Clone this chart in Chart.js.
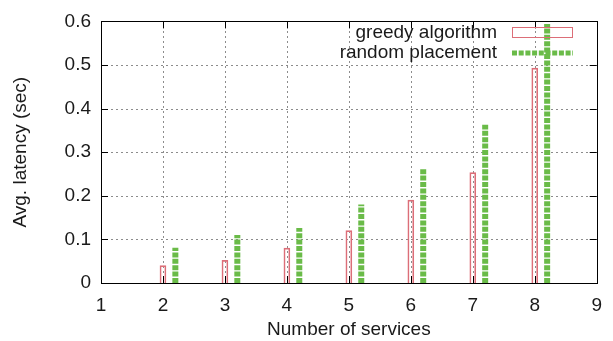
<!DOCTYPE html>
<html>
<head>
<meta charset="utf-8">
<script src="https://cdn.jsdelivr.net/npm/chart.js@4"></script>
<style>
  html, body { margin: 0; padding: 0; background: #fff; }
  #wrap { width: 613px; height: 341px; }
</style>
</head>
<body>
<div id="wrap"><canvas id="latencyChart"></canvas></div>
<script>
// services on the x axis and average latency (sec) per method
const services = [2, 3, 4, 5, 6, 7, 8];
const greedy = [0.04, 0.052, 0.08, 0.12, 0.19, 0.253, 0.493];
const random = [0.081, 0.11, 0.126, 0.18, 0.262, 0.363, 0.594];
const xTicks = [1, 2, 3, 4, 5, 6, 7, 8, 9];
const yTicks = [0, 0.1, 0.2, 0.3, 0.4, 0.5, 0.6];

const seriesNames = ['greedy algorithm', 'random placement'];
const RED = '#dc6e78';
const GREEN = '#6abb48';
const INK = '#1a1a1a';
const FONT = 'Liberation Sans, Arial, sans-serif';
const shift = 0.2; // random bars sit just right of each integer

// random placement drawn as thick dashed columns, split by nulls
const randomPts = [];
services.forEach((s, i) => {
  randomPts.push({ x: s + shift, y: 0 }, { x: s + shift, y: random[i] }, { x: s + shift, y: null });
});

// dotted grid, drawn by hand so the dots stay crisp
const dots = {
  id: 'dots',
  beforeDatasetsDraw(chart) {
    const { ctx, chartArea: a, scales } = chart;
    ctx.save();
    ctx.strokeStyle = '#8c8c8c';
    ctx.lineWidth = 1;
    ctx.setLineDash([2, 3]);
    ctx.beginPath();
    xTicks.slice(1, -1).forEach(v => {
      const px = Math.round(scales.x.getPixelForValue(v)) + 0.5;
      ctx.moveTo(px, a.bottom); ctx.lineTo(px, a.top);
    });
    yTicks.slice(1, -1).forEach(v => {
      const py = Math.round(scales.y.getPixelForValue(v)) + 0.5;
      ctx.moveTo(a.left, py); ctx.lineTo(a.right, py);
    });
    ctx.stroke();
    ctx.restore();
  }
};

const frame = {
  id: 'frame',
  afterDatasetsDraw(chart) {
    const { ctx, chartArea: a, scales } = chart;
    ctx.save();
    ctx.strokeStyle = '#000';
    ctx.lineWidth = 1;
    ctx.beginPath();
    xTicks.forEach(v => {
      const px = Math.round(scales.x.getPixelForValue(v)) + 0.5;
      ctx.moveTo(px, a.bottom); ctx.lineTo(px, a.bottom - 7);
      ctx.moveTo(px, a.top); ctx.lineTo(px, a.top + 7);
    });
    yTicks.forEach(v => {
      const py = Math.round(scales.y.getPixelForValue(v)) + 0.5;
      ctx.moveTo(a.left, py); ctx.lineTo(a.left + 7, py);
      ctx.moveTo(a.right, py); ctx.lineTo(a.right - 7, py);
    });
    ctx.stroke();
    ctx.strokeRect(Math.round(a.left) + 0.5, Math.round(a.top) + 0.5,
      Math.round(a.right - a.left), Math.round(a.bottom - a.top));

    // gnuplot style key: text right-aligned, sample to the right
    ctx.font = '19px ' + FONT;
    ctx.fillStyle = INK;
    ctx.textAlign = 'right';
    ctx.textBaseline = 'middle';
    ctx.fillText(seriesNames[0], 497, 33);
    ctx.fillText(seriesNames[1], 497, 53);
    ctx.strokeStyle = RED;
    ctx.strokeRect(512.5, 27.5, 60, 10);
    ctx.strokeStyle = GREEN;
    ctx.lineWidth = 5;
    ctx.setLineDash([5, 1.7]);
    ctx.beginPath();
    ctx.moveTo(512, 53); ctx.lineTo(573, 53);
    ctx.stroke();
    ctx.restore();
  }
};

new Chart(document.getElementById('latencyChart'), {
  type: 'bar',
  data: {
    datasets: [
      {
        label: seriesNames[0],
        data: services.map((s, i) => ({ x: s, y: greedy[i] })),
        backgroundColor: 'rgba(0,0,0,0)',
        borderColor: RED,
        borderWidth: 1,
        barThickness: 6,
        grouped: false,
        order: 2
      },
      {
        type: 'line',
        label: seriesNames[1],
        data: randomPts,
        borderColor: GREEN,
        borderWidth: 6,
        borderDash: [5, 1.4],
        borderCapStyle: 'butt',
        pointRadius: 0,
        spanGaps: false,
        fill: false,
        order: 1
      }
    ]
  },
  options: {
    responsive: true,
    maintainAspectRatio: false,
    animation: false,
    layout: { padding: { top: 17, right: 15, left: 0, bottom: 0 } },
    plugins: { legend: { display: false }, tooltip: { enabled: false } },
    scales: {
      x: {
        type: 'linear',
        min: 1,
        max: 9,
        offset: false,
        afterFit: s => { s.height = 58; },
        afterBuildTicks: s => { s.ticks = xTicks.map(v => ({ value: v })); },
        grid: { display: false, offset: false, drawTicks: false },
        border: { display: false },
        ticks: { color: INK, font: { family: FONT, size: 19 }, padding: 11 },
        title: {
          display: true, text: 'Number of services', color: INK,
          font: { family: FONT, size: 19 }, padding: { top: 0, bottom: 0 }
        }
      },
      y: {
        min: 0,
        max: 0.6,
        afterFit: s => { s.width = 101; },
        afterBuildTicks: s => { s.ticks = yTicks.map(v => ({ value: v })); },
        grid: { display: false, drawTicks: false },
        border: { display: false },
        ticks: {
          color: INK, font: { family: FONT, size: 19 }, padding: 10,
          callback: v => (v === 0 ? '0' : v.toFixed(1))
        },
        title: {
          display: true, text: 'Avg. latency (sec)', color: INK,
          font: { family: FONT, size: 19 }, padding: { top: 9, bottom: 0 }
        }
      }
    }
  },
  plugins: [dots, frame]
});
</script>
</body>
</html>
